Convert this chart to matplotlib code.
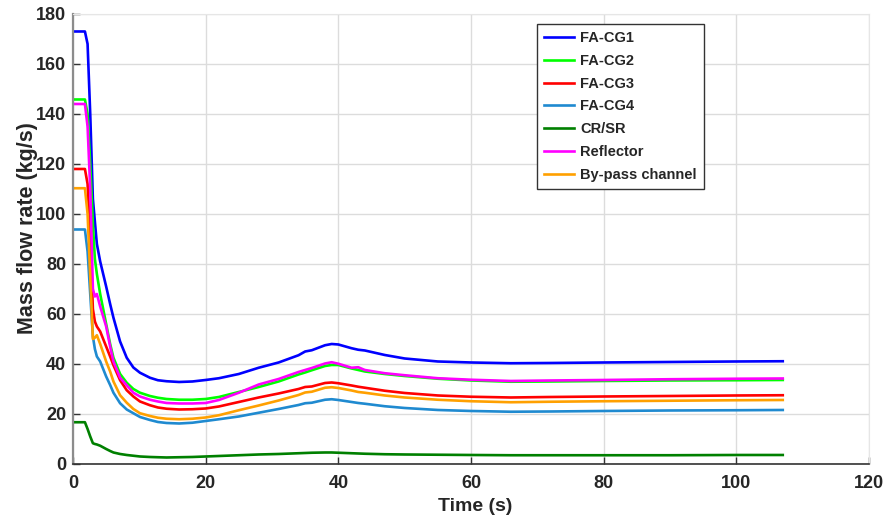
import matplotlib
matplotlib.use("Agg")
import matplotlib.pyplot as plt

# Time base shared by all channels (s)
time_s = [0, 1.8, 2.2, 2.6, 3.0, 3.3, 3.6, 4.1, 5.0, 5.6,
          6.1, 7.1, 8.1, 9.1, 10.1, 11.6, 12.8, 14.1, 16, 18,
          20, 22, 25, 28, 31, 34, 35, 36, 38, 39,
          40, 42, 43, 44, 47, 50, 55, 60, 66, 72,
          80, 90, 100, 107]

fa_cg1 = [173, 173, 168, 140, 106, 97, 88, 81, 71, 64,
          58.5, 49, 42.5, 38.6, 36.5, 34.5, 33.5, 33.1, 32.8, 33.0,
          33.6, 34.3, 36.0, 38.5, 40.6, 43.5, 45.0, 45.5, 47.5, 48.0,
          47.8, 46.3, 45.7, 45.4, 43.6, 42.2, 41.0, 40.6, 40.3, 40.4,
          40.6, 40.8, 41.0, 41.1]

fa_cg2 = [145.8, 145.8, 140, 120, 96, 82, 76, 68, 56, 48,
          42.5, 36, 32.5, 30, 28.5, 27.2, 26.5, 26, 25.7, 25.7,
          26, 26.8, 28.8, 30.8, 33, 35.8, 36.6, 37.5, 39.2, 39.6,
          39.6, 38.2, 37.6, 37, 36, 35.2, 34.1, 33.4, 32.9, 33.0,
          33.2, 33.4, 33.5, 33.6]

fa_cg3 = [118, 118, 112, 90, 62, 57, 55, 53, 47, 43,
          39.5, 33.5, 29.5, 27, 25, 23.5, 22.6, 22.1, 21.8, 21.9,
          22.2, 23, 24.8, 26.6, 28.2, 30, 30.8, 31, 32.4, 32.6,
          32.3, 31.4, 30.9, 30.5, 29.3, 28.4, 27.4, 26.9, 26.6, 26.8,
          27.0, 27.2, 27.4, 27.5]

fa_cg4 = [93.8, 93.8, 85, 68, 51, 46, 43, 41, 35, 31.6,
          28.5, 24.3, 21.8, 20.3, 18.8, 17.6, 16.8, 16.4, 16.2, 16.5,
          17.2, 17.9, 19.0, 20.5, 22, 23.6, 24.3, 24.5, 25.7, 25.9,
          25.6, 24.8, 24.4, 24.1, 23.1, 22.4, 21.6, 21.2, 20.9, 21.0,
          21.2, 21.4, 21.5, 21.6]

cr_sr = [16.7, 16.7, 14, 11, 8.3, 8.0, 7.8, 7.3, 6.0, 5.2,
         4.6, 4.0, 3.6, 3.3, 3.0, 2.8, 2.7, 2.6, 2.7, 2.8,
         3.0, 3.2, 3.5, 3.8, 4.0, 4.3, 4.4, 4.5, 4.6, 4.6,
         4.5, 4.3, 4.2, 4.1, 3.9, 3.8, 3.7, 3.6, 3.5, 3.5,
         3.5, 3.5, 3.6, 3.6]

reflector = [144, 144, 135, 110, 70, 67, 68, 63, 55, 47,
             41, 34.5, 31.5, 28.5, 27, 25.7, 25, 24.4, 24.2, 24.2,
             24.4, 25.6, 28.5, 31.8, 34, 36.8, 37.6, 38.4, 40.2, 40.7,
             40.1, 38.5, 38.7, 37.6, 36.3, 35.5, 34.3, 33.7, 33.2, 33.4,
             33.6, 33.9, 34.1, 34.2]

bypass = [110.3, 110.3, 100, 75, 50, 50.5, 51.5, 48, 41, 37,
          33, 27.5, 24.5, 22, 20.3, 19.2, 18.5, 18.1, 17.9, 18.1,
          18.6, 19.5, 21.5, 23.4, 25.4, 27.6, 28.6, 28.9, 30.5, 30.7,
          30.4, 29.4, 28.8, 28.5, 27.4, 26.6, 25.7, 25.1, 24.7, 24.9,
          25.1, 25.3, 25.5, 25.6]

labels = ["FA-CG1", "FA-CG2", "FA-CG3", "FA-CG4", "CR/SR", "Reflector", "By-pass channel"]
series = [fa_cg1, fa_cg2, fa_cg3, fa_cg4, cr_sr, reflector, bypass]
colors = ["#0000FF", "#00FF00", "#FF0000", "#1F8AD0", "#008000", "#FF00FF", "#FFA000"]

x_ticks = [0, 20, 40, 60, 80, 100, 120]
y_ticks = [0, 20, 40, 60, 80, 100, 120, 140, 160, 180]

plt.rcParams["font.family"] = ["Liberation Sans", "DejaVu Sans"]

fig = plt.figure(figsize=(8.89, 5.16), dpi=100)
ax = fig.add_axes([0.0821, 0.1008, 0.8954, 0.8721])

for y, lab, c in zip(series, labels, colors):
    ax.plot(time_s, y, color=c, lw=1.9, label=lab, solid_joinstyle="round")

ax.set_xlim(0, 120)
ax.set_ylim(0, 180)
ax.set_xticks(x_ticks)
ax.set_yticks(y_ticks)
ax.grid(True, color="#dcdcdc", lw=1.0)
ax.set_axisbelow(True)

ax.tick_params(direction="in", length=5, width=1, colors="#333333",
               labelsize=13, labelcolor="#262626")
ax.tick_params(axis="x", pad=8)
ax.tick_params(axis="y", pad=5)
for lbl in ax.get_xticklabels() + ax.get_yticklabels():
    lbl.set_fontweight("bold")

ax.spines["left"].set_color("#8c8c8c")
ax.spines["left"].set_linewidth(1.6)
ax.spines["bottom"].set_color("#333333")
ax.spines["bottom"].set_linewidth(1.2)
ax.spines["top"].set_color("#e6e6e6")
ax.spines["right"].set_color("#e6e6e6")

ax.set_xlabel("Time (s)", fontsize=14, fontweight="bold", color="#262626")
ax.xaxis.set_label_coords(0.505, -0.075)
ax.xaxis.label.set_va("top")
ax.set_ylabel("Mass flow rate (kg/s)", fontsize=15.5, fontweight="bold", color="#262626")
ax.yaxis.set_label_coords(-0.044, 0.524)

leg = ax.legend(loc="upper left", bbox_to_anchor=(0.583, 0.978), frameon=True,
                fancybox=False, edgecolor="#333333", framealpha=1.0,
                prop={"weight": "bold", "size": 10.5}, handlelength=2.0,
                handletextpad=0.45, labelspacing=0.6, borderpad=0.5,
                borderaxespad=0.0)
leg.get_frame().set_linewidth(1.0)
for t in leg.get_texts():
    t.set_color("#262626")

fig.savefig("out.png", dpi=100)
